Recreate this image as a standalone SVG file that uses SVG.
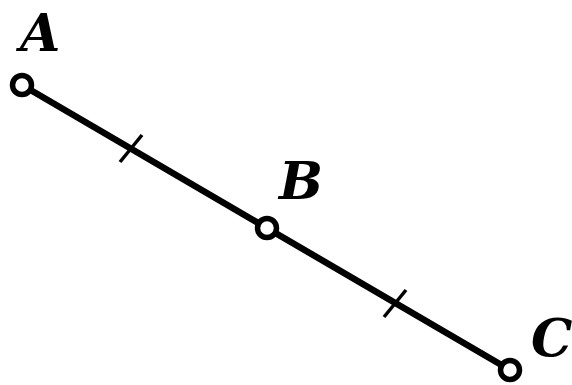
<svg xmlns="http://www.w3.org/2000/svg" width="572" height="385" viewBox="0 0 572 385">
<style>
.seg{stroke:#000;stroke-width:6.5;fill:none;stroke-linecap:butt}
.tick{stroke:#000;stroke-width:3.5;fill:none}
.pt{fill:#fff;stroke:#000;stroke-width:5.5}
.lbl{font-family:"DejaVu Serif","Liberation Serif",serif;font-style:italic;font-weight:bold;font-size:52px;fill:#000}
</style>
<rect width="572" height="385" fill="#fff"/>
<g id="connectors">
<line class="seg" x1="22" y1="85" x2="510" y2="370"/>
<line class="tick" x1="120" y1="162" x2="142" y2="135"/>
<line class="tick" x1="384" y1="317" x2="406" y2="290"/>
</g>
<g id="A"><circle class="pt" cx="22" cy="85" r="9.5"/><text class="lbl" x="20" y="51">A</text></g>
<g id="B"><circle class="pt" cx="267" cy="228" r="9.5"/><text class="lbl" x="279" y="199">B</text></g>
<g id="C"><circle class="pt" cx="510" cy="370" r="9.5"/><text class="lbl" x="531" y="356">C</text></g>
</svg>
